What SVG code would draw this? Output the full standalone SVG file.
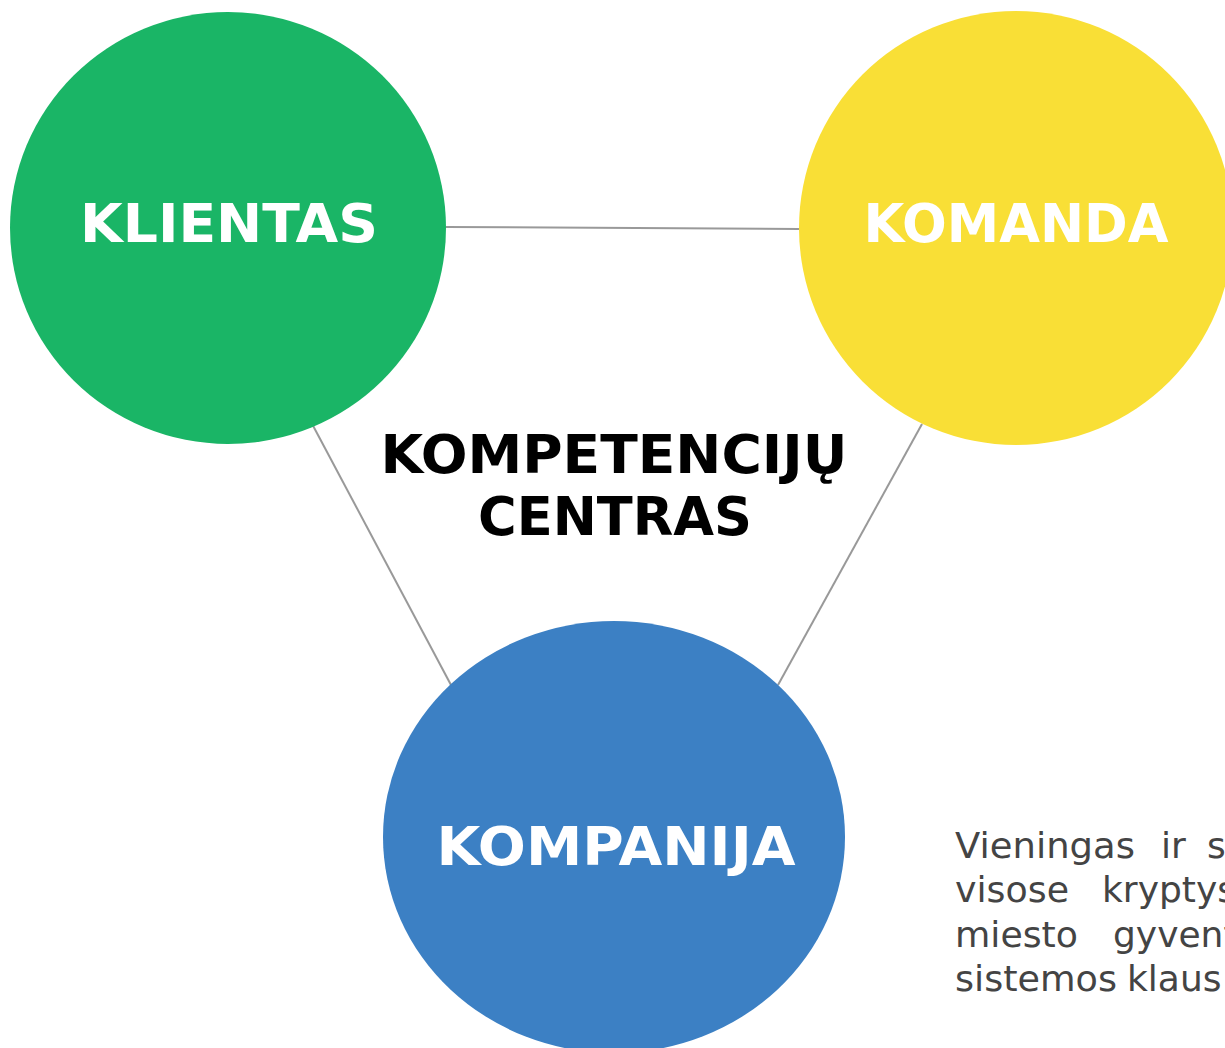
<svg xmlns="http://www.w3.org/2000/svg" width="1225" height="1048" viewBox="0 0 1225 1048">
<style>
.lbl{font-family:"DejaVu Sans",Verdana,sans-serif;font-weight:bold;fill:#fff;text-anchor:middle;font-size:54px}
.ttl{font-family:"DejaVu Sans",Verdana,sans-serif;font-weight:bold;fill:#000;text-anchor:middle;font-size:54px}
.body{font-family:"DejaVu Sans",Verdana,sans-serif;fill:#444;font-size:36px}
.conn{stroke:#999;stroke-width:2;fill:none}
</style>
<rect width="1225" height="1048" fill="#fff"/>
<g id="connectors">
<line class="conn" x1="446" y1="227" x2="799" y2="229"/>
<line class="conn" x1="310" y1="420" x2="451" y2="685"/>
<line class="conn" x1="922" y1="424" x2="778" y2="685"/>
</g>
<g id="klientas">
<ellipse cx="228" cy="228" rx="218" ry="216" fill="#1ab566"/>
<text class="lbl" x="229" y="242" textLength="298" lengthAdjust="spacingAndGlyphs">KLIENTAS</text>
</g>
<g id="komanda">
<ellipse cx="1016" cy="228" rx="217" ry="217" fill="#f9df36"/>
<text class="lbl" x="1016" y="242" textLength="305" lengthAdjust="spacingAndGlyphs">KOMANDA</text>
</g>
<g id="kompanija">
<ellipse cx="614" cy="837" rx="231" ry="216" fill="#3c80c4"/>
<text class="lbl" x="616" y="865" textLength="359" lengthAdjust="spacingAndGlyphs">KOMPANIJA</text>
</g>
<g id="title">
<text class="ttl" x="614" y="473" textLength="467" lengthAdjust="spacingAndGlyphs">KOMPETENCIJŲ</text>
<text class="ttl" x="615" y="535" textLength="274" lengthAdjust="spacingAndGlyphs">CENTRAS</text>
</g>
<g id="description">
<text class="body" y="858"><tspan x="955" textLength="180" lengthAdjust="spacingAndGlyphs">Vieningas</tspan><tspan x="1161">ir</tspan><tspan x="1207">s</tspan></text>
<text class="body" y="902"><tspan x="955" textLength="114" lengthAdjust="spacingAndGlyphs">visose</tspan><tspan x="1102">kryptys</tspan></text>
<text class="body" y="947"><tspan x="955" textLength="123" lengthAdjust="spacingAndGlyphs">miesto</tspan><tspan x="1113">gyvent</tspan></text>
<text class="body" y="991"><tspan x="955" textLength="162" lengthAdjust="spacingAndGlyphs">sistemos</tspan><tspan x="1127">klaus</tspan></text>
</g>
</svg>
